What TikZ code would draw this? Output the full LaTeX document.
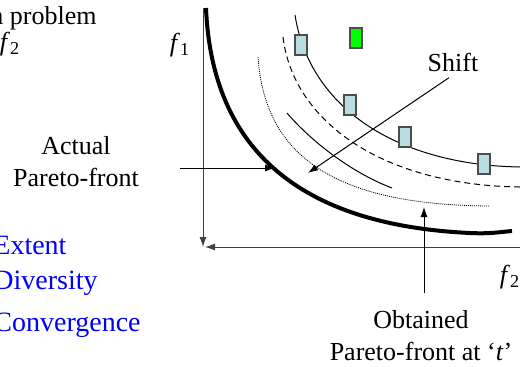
\documentclass[tikz,border=0pt]{standalone}
\usepackage{fontspec}
\setmainfont{Liberation Serif}
\usetikzlibrary{arrows.meta}
\definecolor{solGreen}{RGB}{0,255,0}
\definecolor{solBlue}{RGB}{184,222,226}
\definecolor{listBlue}{RGB}{0,0,255}
\newcommand{\ObjOne}{\textit{f}\textsubscript{1}}
\newcommand{\ObjTwo}{\textit{f}\textsubscript{2}}

\begin{document}
\begin{tikzpicture}[
    x=0.5pt, y=-0.5pt,
    caption/.style={font=\fontsize{13}{16}\selectfont, align=center, inner sep=0pt},
    listitem/.style={font=\fontsize{14}{16}\selectfont, text=listBlue, anchor=west, inner sep=0pt},
    solution/.style={draw=black!70, line width=0.6pt, minimum width=6pt, minimum height=10pt, inner sep=0pt},
    pointer/.style={-{Latex[length=5pt,width=3.5pt]}, line width=0.5pt},
    axis/.style={-{Latex[length=5pt,width=3.5pt]}, line width=0.5pt, black!75}
]
\useasboundingbox (0,0) rectangle (520,366);

% axes
\coordinate (origin) at (203,247);
\coordinate (fOneTop) at (203,8);
\coordinate (fTwoEnd) at (520,247);
\draw[axis] (fOneTop) -- (origin);
\draw[axis] (fTwoEnd) -- ([xshift=1pt]origin);
\node[caption] (fOne) at (180,45) {\ObjOne};
\node[caption] (fTwo) at (510,277) {\ObjTwo};

% fronts
\draw[line width=2pt] (206,8) .. controls (212,150) and (300,225) .. (470,233)
    .. controls (490,234) and (500,232) .. (512,231);
\draw[line width=0.4pt, dash pattern=on 0.5pt off 0.5pt]
    (258,57) .. controls (265,160) and (340,205) .. (490,206);
\draw[line width=0.5pt] (287,113) .. controls (310,140) and (350,172) .. (392,188);
\draw[line width=0.5pt, dash pattern=on 3pt off 2pt]
    (283,37) .. controls (293,120) and (380,185) .. (520,187);
\draw[line width=0.5pt] (295,15) .. controls (310,110) and (400,165) .. (520,167);

% solutions
\node[solution, fill=solBlue] (solA) at (301,45) {};
\node[solution, fill=solGreen] (solB) at (356,38) {};
\node[solution, fill=solBlue] (solC) at (350,105) {};
\node[solution, fill=solBlue] (solD) at (405,137) {};
\node[solution, fill=solBlue] (solE) at (484,164) {};

% labels
\node[caption] (shift) at (453,62) {Shift};
\coordinate (shiftTip) at (308,173);
\draw[pointer] ([xshift=-2pt,yshift=-3pt]shift.south) -- (shiftTip);

\node[caption] (actual) at (76,162) {Actual\\Pareto-front};
\coordinate (actualTail) at (180,168);
\coordinate (actualTip) at (275,168);
\draw[pointer] (actualTail) -- (actualTip);

\node[caption] (obtained) at (421,336) {Obtained\\Pareto-front at ‘\textit{t}’};
\coordinate (obtainedTail) at (424,293);
\coordinate (obtainedTip) at (424,207);
\draw[pointer] (obtainedTail) -- (obtainedTip);

% clipped slide text
\node[caption, anchor=base east] (problem) at (97,24) {n problem};
\node[caption] (objTwoLeft) at (10,44) {\ObjTwo};
\node[listitem] (extent) at (-7,245) {Extent};
\node[listitem] (diversity) at (-7,283) {Diversity};
\node[listitem] (convergence) at (-7,325) {Convergence};
\end{tikzpicture}
\end{document}
